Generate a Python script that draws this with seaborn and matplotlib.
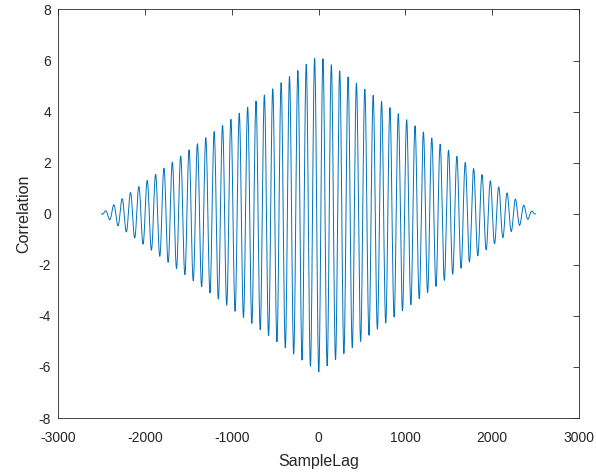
import numpy as np
import pandas as pd
import matplotlib
matplotlib.use("Agg")
import matplotlib.pyplot as plt
import seaborn as sns

# Values
env_lag = [-2500, 0, 2500]        # triangular envelope corners (sample lag)
env_peak = [0.0, 6.2, 0.0]        # envelope amplitude at those lags
period = [96.4]                   # oscillation period in samples
peak_lag = [-45]                  # lag of the highest crest
x_ticks = [-3000, -2000, -1000, 0, 1000, 2000, 3000]
y_ticks = [-8, -6, -4, -2, 0, 2, 4, 6, 8]

lags = np.arange(env_lag[0], env_lag[-1] + 1)
envelope = np.interp(lags, env_lag, env_peak)
corr = envelope * np.cos(2 * np.pi * (lags - peak_lag[0]) / period[0])
df = pd.DataFrame({"SampleLag": lags, "Correlation": corr})

sns.set_style("white")
plt.rcParams['font.family'] = ['Liberation Sans', 'DejaVu Sans']

fig = plt.figure(figsize=(5.96, 4.74), dpi=100)
ax = fig.add_axes([0.0973, 0.118, 0.8742, 0.862])
sns.lineplot(data=df, x="SampleLag", y="Correlation", ax=ax, color="#0072BD",
             linewidth=0.7, estimator=None, sort=False)

ax.set_xlim(-3000, 3000)
ax.set_ylim(-8, 8)
ax.set_xticks(x_ticks)
ax.set_yticks(y_ticks)
ax.set_xticklabels([str(v) for v in x_ticks])
ax.set_yticklabels([str(v) for v in y_ticks])
grey = "#262626"
for s in ax.spines.values():
    s.set_visible(True)
    s.set_color("#262626")
    s.set_linewidth(0.6)
ax.tick_params(direction="in", length=4, width=0.6, colors=grey, labelsize=10,
               top=True, right=True, labeltop=False, labelright=False)
ax.tick_params(axis="x", pad=9)
ax.tick_params(axis="y", pad=5)
ax.set_xlabel("SampleLag", fontsize=11.5, color=grey, labelpad=7)
ax.set_ylabel("Correlation", fontsize=11.5, color=grey, labelpad=5)

fig.savefig("out.png", dpi=100)
